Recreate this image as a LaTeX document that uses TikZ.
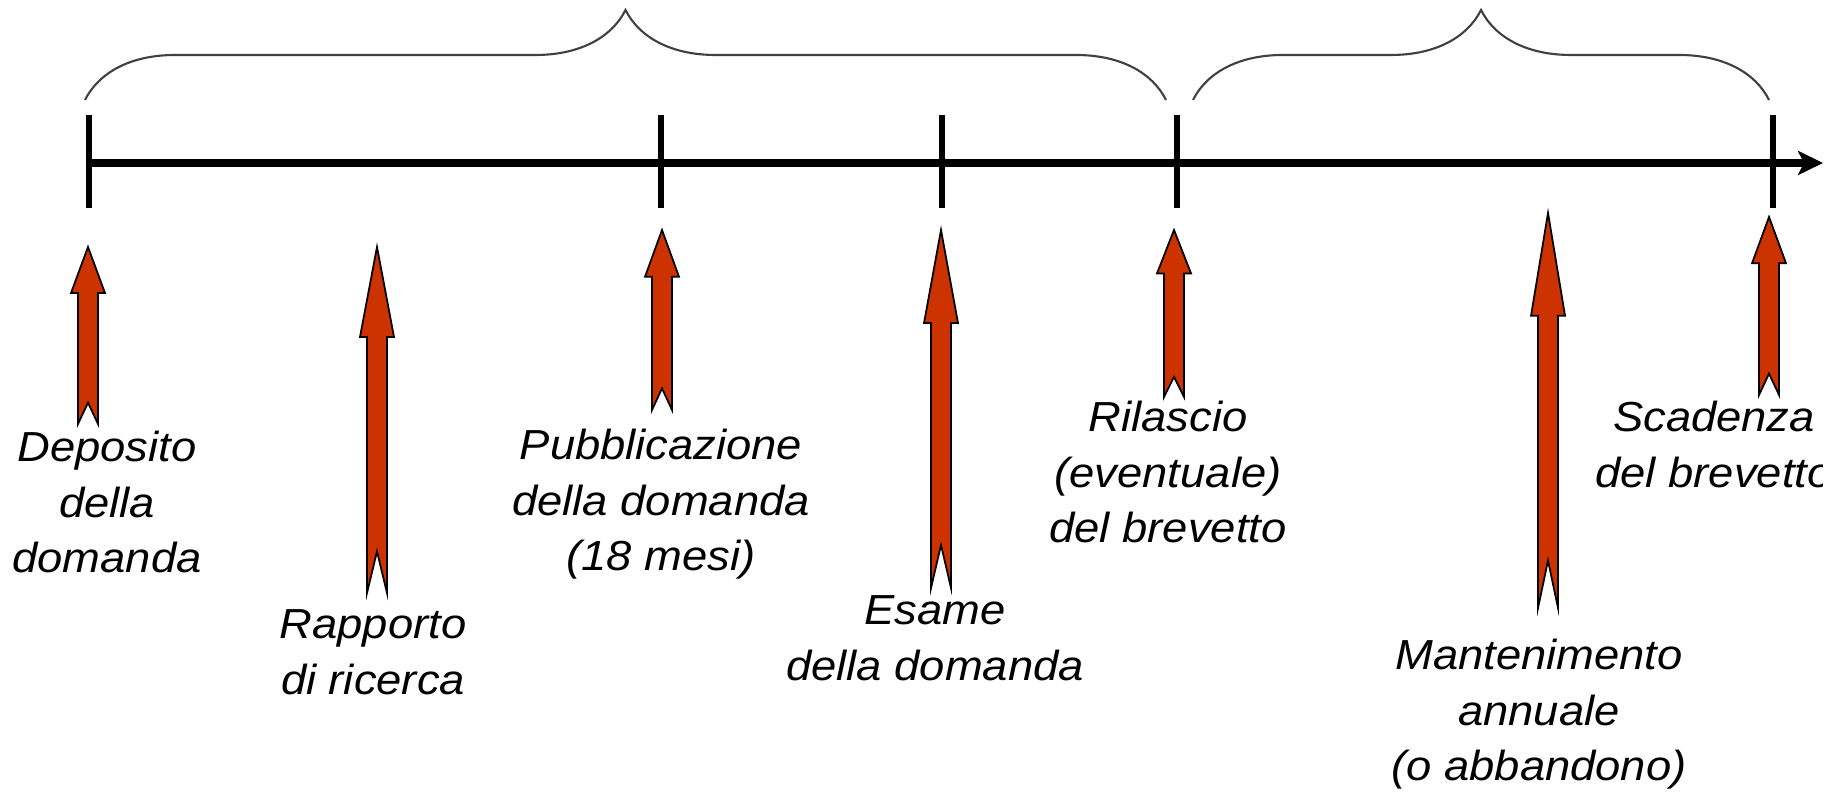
\documentclass[tikz,border=0pt]{standalone}
\usepackage{fontspec}
\newfontfamily\labelfont{Liberation Sans}[FakeStretch=1.08]
\usetikzlibrary{arrows.meta,decorations.pathreplacing}
\definecolor{arrowred}{RGB}{204,51,0}
\tikzset{
  eventlabel/.style={anchor=north, inner sep=0pt, align=center,
    font=\labelfont\itshape\fontsize{11.95pt}{15.9pt}\selectfont},
  periodbrace/.style={decorate, decoration={brace, amplitude=0.9cm, aspect=0.5},
    draw=black!75, line width=0.6pt}
}
\begin{document}
\begin{tikzpicture}
\useasboundingbox (0,0) rectangle (18.43,7.92);
% time axis with its ticks
\draw[line width=2.3pt,-{Stealth[length=2.5mm,width=2.4mm,inset=0.6mm]}] (0.88,6.29) -- (18.23,6.29);
\foreach \x in {0.89,6.61,9.42,11.77,17.73}
    \draw[line width=1.9pt] (\x,6.77) -- (\x,5.84);

% the two periods
\draw[periodbrace] (0.85,6.92) -- (11.66,6.92);
\draw[periodbrace] (11.93,6.92) -- (17.69,6.92);

% red block arrows: x / tip / tail
\foreach \x/\tip/\tail in {0.88/5.45/3.68, 3.77/5.45/1.99, 6.62/5.62/3.82, 9.41/5.62/2.04,
    11.74/5.62/3.95, 15.48/5.79/1.84, 17.69/5.75/3.97}
{
    \pgfmathsetmacro\head{0.26*(\tip-\tail)}
    \pgfmathsetmacro\notch{0.12*(\tip-\tail)}
    \filldraw[fill=arrowred, draw=black, line width=0.5pt]
        (\x,\tip) -- (\x+0.17,\tip-\head) -- (\x+0.1,\tip-\head) -- (\x+0.1,\tail)
        -- (\x,\tail+\notch) -- (\x-0.1,\tail) -- (\x-0.1,\tip-\head)
        -- (\x-0.17,\tip-\head) -- cycle;
}

\node[eventlabel] (deposito) at (1.07,3.62) {Deposito\\della\\domanda};
\node[eventlabel] (rapporto) at (3.73,1.83) {Rapporto\\di ricerca};
\node[eventlabel] (pubblicazione) at (6.61,3.64) {Pubblicazione\\della domanda\\(18 mesi)};
\node[eventlabel] (esame) at (9.35,1.97) {Esame\\della domanda};
\node[eventlabel] (rilascio) at (11.68,3.92) {Rilascio\\(eventuale)\\del brevetto};
\node[eventlabel] (mantenimento) at (15.39,1.54) {Mantenimento\\annuale\\(o abbandono)};
\begin{scope}
    \clip (15.5,0) rectangle (18.22,7.92);
    \node[eventlabel] (scadenza) at (17.14,3.92) {Scadenza\\del brevetto};
\end{scope}
\end{tikzpicture}
\end{document}
